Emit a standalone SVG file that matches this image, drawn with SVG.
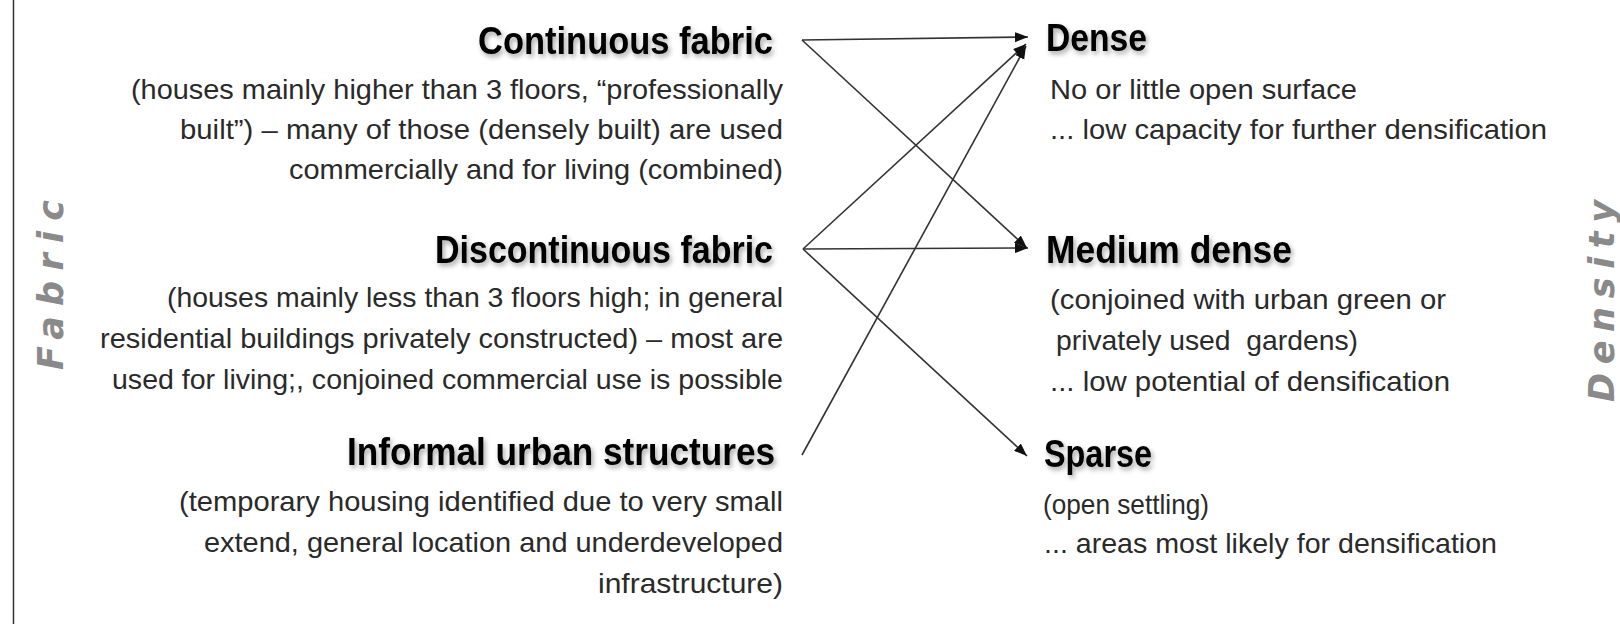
<svg xmlns="http://www.w3.org/2000/svg" width="1620" height="624" viewBox="0 0 1620 624">
<style>
  .h { font-family: "Liberation Sans", Arial, sans-serif; font-weight: bold; font-size: 38px; fill: #000; filter: url(#sh); }
  .t { font-family: "Liberation Sans", Arial, sans-serif; font-size: 28px; fill: #2a2a2a; white-space: pre; }
  .l { text-anchor: end; }
  .v { font-family: "DejaVu Sans", Verdana, sans-serif; font-weight: bold; font-style: italic; font-size: 35px; fill: #8a8a8a; text-anchor: middle; }
  .c { stroke: #333; stroke-width: 1.6; fill: none; marker-end: url(#ah); }
</style>
<defs>
  <filter id="sh" x="-10%" y="-30%" width="130%" height="180%">
    <feDropShadow dx="2" dy="3" stdDeviation="2.5" flood-color="#000" flood-opacity="0.35"/>
  </filter>
  <marker id="ah" markerUnits="userSpaceOnUse" markerWidth="16" markerHeight="12" refX="13" refY="5" orient="auto">
    <path d="M0,0 L13,5 L0,10 z" fill="#111"/>
  </marker>
</defs>
<rect width="1620" height="624" fill="#fff"/>
<line x1="13.5" y1="0" x2="13.5" y2="624" stroke="#333" stroke-width="1.5"/>

<g id="axis-fabric"><text class="v" transform="translate(63,285) rotate(-90)" textLength="170" lengthAdjust="spacing">Fabric</text></g>
<g id="axis-density"><text class="v" transform="translate(1614,301) rotate(-90)" textLength="202" lengthAdjust="spacing">Density</text></g>

<g id="continuous">
  <text class="h l" x="773" y="54" textLength="295" lengthAdjust="spacingAndGlyphs">Continuous fabric</text>
  <text class="t l" x="783" y="99" textLength="652" lengthAdjust="spacingAndGlyphs">(houses mainly higher than 3 floors, “professionally</text>
  <text class="t l" x="783" y="139" textLength="603" lengthAdjust="spacingAndGlyphs">built”) – many of those (densely built) are used</text>
  <text class="t l" x="783" y="179" textLength="494" lengthAdjust="spacingAndGlyphs">commercially and for living (combined)</text>
</g>
<g id="discontinuous">
  <text class="h l" x="773" y="263" textLength="338" lengthAdjust="spacingAndGlyphs">Discontinuous fabric</text>
  <text class="t l" x="783" y="307" textLength="616" lengthAdjust="spacingAndGlyphs">(houses mainly less than 3 floors high; in general</text>
  <text class="t l" x="783" y="348" textLength="683" lengthAdjust="spacingAndGlyphs">residential buildings privately constructed) – most are</text>
  <text class="t l" x="783" y="389" textLength="671" lengthAdjust="spacingAndGlyphs">used for living;, conjoined commercial use is possible</text>
</g>
<g id="informal">
  <text class="h l" x="775" y="465" textLength="428" lengthAdjust="spacingAndGlyphs">Informal urban structures</text>
  <text class="t l" x="783" y="511" textLength="604" lengthAdjust="spacingAndGlyphs">(temporary housing identified due to very small</text>
  <text class="t l" x="783" y="552" textLength="579" lengthAdjust="spacingAndGlyphs">extend, general location and underdeveloped</text>
  <text class="t l" x="783" y="593" textLength="185" lengthAdjust="spacingAndGlyphs">infrastructure)</text>
</g>
<g id="dense">
  <text class="h" x="1046" y="51" textLength="101" lengthAdjust="spacingAndGlyphs">Dense</text>
  <text class="t" x="1050" y="99" textLength="307" lengthAdjust="spacingAndGlyphs">No or little open surface</text>
  <text class="t" x="1050" y="139" textLength="497" lengthAdjust="spacingAndGlyphs">... low capacity for further densification</text>
</g>
<g id="medium">
  <text class="h" x="1046" y="263" textLength="246" lengthAdjust="spacingAndGlyphs">Medium dense</text>
  <text class="t" x="1050" y="309" textLength="396" lengthAdjust="spacingAndGlyphs">(conjoined with urban green or</text>
  <text class="t" x="1056" y="350" textLength="302" lengthAdjust="spacingAndGlyphs">privately used  gardens)</text>
  <text class="t" x="1050" y="391" textLength="400" lengthAdjust="spacingAndGlyphs">... low potential of densification</text>
</g>
<g id="sparse">
  <text class="h" x="1044" y="467" textLength="108" lengthAdjust="spacingAndGlyphs">Sparse</text>
  <text class="t" x="1043" y="514" textLength="166" lengthAdjust="spacingAndGlyphs">(open settling)</text>
  <text class="t" x="1044" y="553" textLength="453" lengthAdjust="spacingAndGlyphs">... areas most likely for densification</text>
</g>

<g id="connectors">
  <line class="c" x1="802" y1="40" x2="1028" y2="37"/>
  <line class="c" x1="802" y1="40" x2="1027" y2="248"/>
  <line class="c" x1="803" y1="249" x2="1026" y2="44"/>
  <line class="c" x1="803" y1="249" x2="1028" y2="248"/>
  <line class="c" x1="803" y1="249" x2="1027" y2="456"/>
  <line class="c" x1="802" y1="455" x2="1026" y2="46"/>
</g>
</svg>
